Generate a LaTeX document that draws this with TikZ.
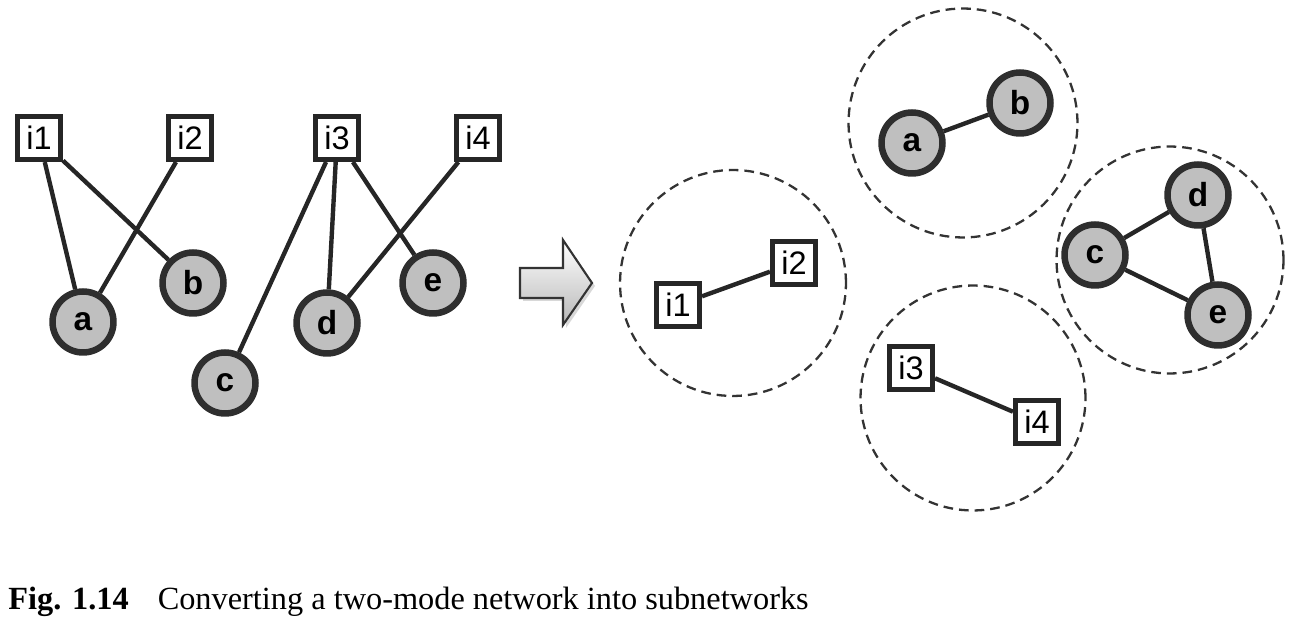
\documentclass[tikz,border=0pt]{standalone}
\usepackage{fontspec}
\setmainfont{Liberation Serif}
\newfontfamily\labfont{Liberation Sans}
\begin{document}
\begin{tikzpicture}[x=0.02cm,y=-0.02cm,
  actor/.style={circle,draw=black!82,fill=black!25,line width=3.7pt,minimum size=1.22cm,inner sep=0pt,font=\labfont\fontsize{19}{19}\selectfont\bfseries},
  item/.style={rectangle,draw=black!85,fill=white,line width=2.6pt,minimum size=0.87cm,inner sep=0pt,font=\labfont\fontsize{18.5}{18.5}\selectfont},
  tie/.style={draw=black!85,line width=2.5pt},
  group/.style={draw=black!80,line width=1.3pt,dash pattern=on 5.5pt off 3.4pt}]
\useasboundingbox (0,0) rectangle (1302,624);
% left two-mode network
\node[item] (i1) at (39,138) {i1};
\node[item] (i2) at (190,138) {i2};
\node[item] (i3) at (337,138) {i3};
\node[item] (i4) at (478,138) {i4};
\node[actor] (a) at (83,322) {a};
\node[actor] (b) at (193,283) {b};
\node[actor] (c) at (225,383) {c};
\node[actor] (d) at (327,323) {d};
\node[actor] (e) at (433,283) {e};
\draw[tie] (i1) -- (a);
\draw[tie] (i1) -- (b);
\draw[tie] (i2) -- (a);
\draw[tie] (i3) -- (c);
\draw[tie] (i3) -- (d);
\draw[tie] (i3) -- (e);
\draw[tie] (i4) -- (d);
% arrow
\fill[black!30,opacity=0.5] (523,271) -- (566,271) -- (566,243) -- (595,286) -- (566,328) -- (566,301) -- (523,301) -- cycle;
\shade[top color=white,bottom color=black!28,draw=black!80,line width=1.2pt,line join=miter]
  (520,268) -- (563,268) -- (563,240) -- (592,283) -- (563,325) -- (563,298) -- (520,298) -- cycle;
% groups
\node[group,circle,minimum size=4.52cm,inner sep=0pt] (g1) at (733,283) {};
\node[group,circle,minimum size=4.58cm,inner sep=0pt] (g2) at (963,123) {};
\node[group,circle,minimum size=4.54cm,inner sep=0pt] (g3) at (1170,260) {};
\node[group,circle,minimum size=4.5cm,inner sep=0pt] (g4) at (973,398) {};
% subnetwork i1-i2
\node[item] (j1) at (678,305) {i1};
\node[item] (j2) at (794,263) {i2};
\draw[tie] (j1) -- (j2);
% subnetwork a-b
\node[actor] (ka) at (912,143) {a};
\node[actor] (kb) at (1020,103) {b};
\draw[tie] (ka) -- (kb);
% subnetwork c-d-e
\node[actor] (kc) at (1095,255) {c};
\node[actor] (kd) at (1198,195) {d};
\node[actor] (ke) at (1218,315) {e};
\draw[tie] (kc) -- (kd);
\draw[tie] (kc) -- (ke);
\draw[tie] (kd) -- (ke);
% subnetwork i3-i4
\node[item] (j3) at (911,368) {i3};
\node[item] (j4) at (1037,422) {i4};
\draw[tie] (j3) -- (j4);
% caption
\node[anchor=base west,inner sep=0pt,font=\fontsize{18.4}{18.4}\selectfont] (cap) at (8,610)
  {\textbf{Fig. 1.14}\hspace{0.9em}Converting a two-mode network into subnetworks};
\end{tikzpicture}
\end{document}
